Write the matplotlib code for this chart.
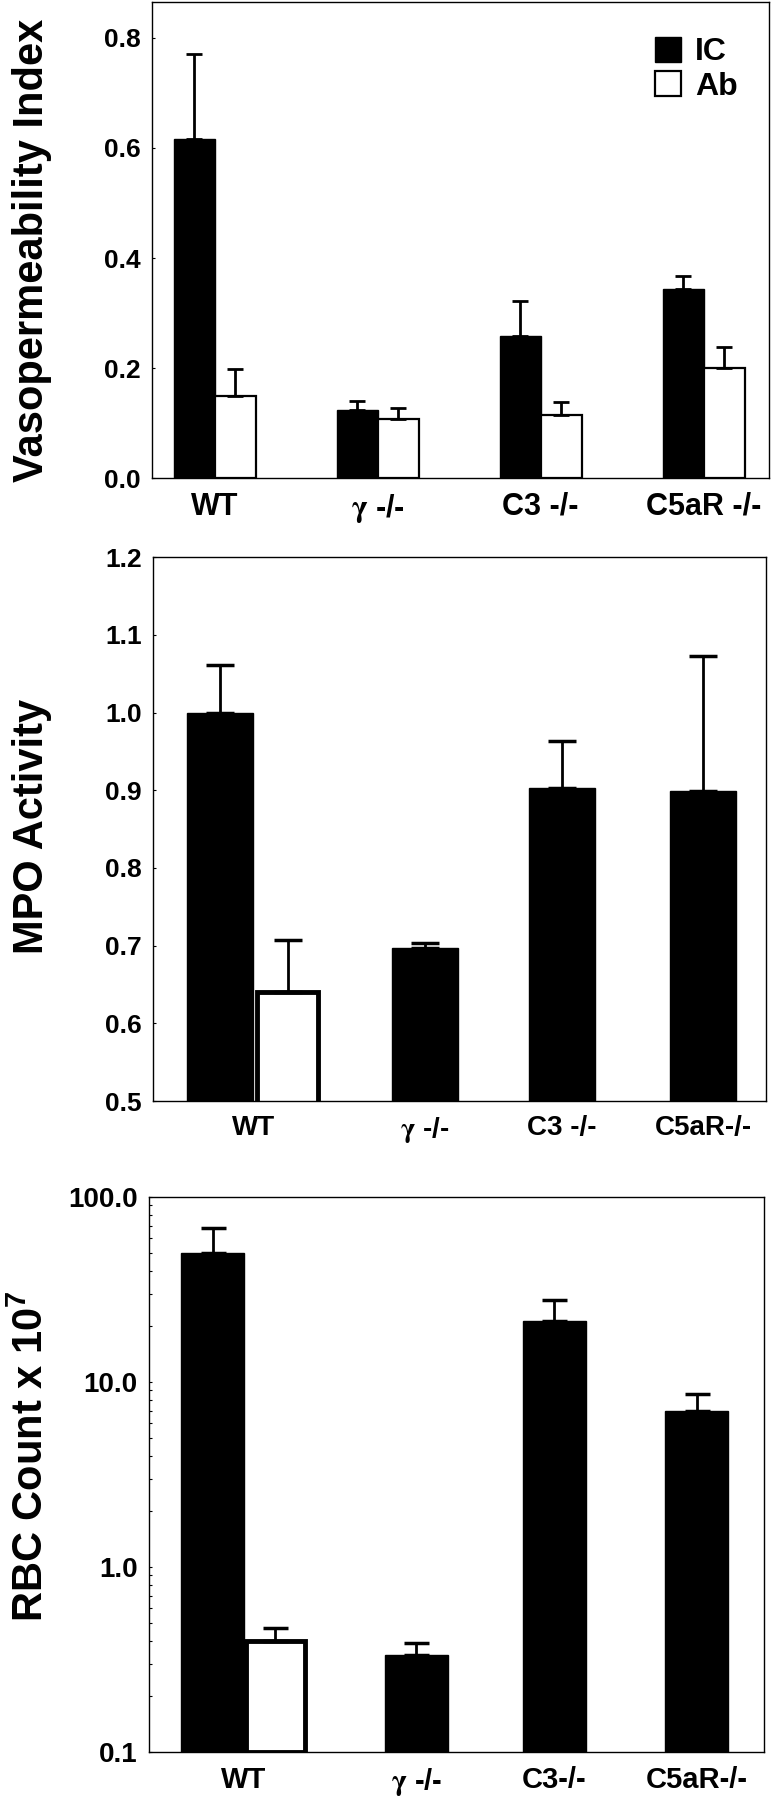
import numpy as np
import matplotlib
matplotlib.use('Agg')
import matplotlib.pyplot as plt
from matplotlib.patches import Patch
from matplotlib.ticker import FixedLocator, FormatStrFormatter, NullFormatter

plt.rcParams['font.family'] = ['Liberation Sans', 'DejaVu Sans']
plt.rcParams['font.weight'] = 'bold'
plt.rcParams['mathtext.fontset'] = 'stix'
plt.rcParams['mathtext.default'] = 'regular'

# Panel 1: vasopermeability index
groups_vp = [r'WT', r'$\mathrm{\gamma}$ -/-', r'C3 -/-', r'C5aR -/-']
vp_ic = [0.617, 0.123, 0.258, 0.344]
vp_ic_err = [0.154, 0.017, 0.063, 0.024]
vp_ab = [0.149, 0.107, 0.115, 0.200]
vp_ab_err = [0.049, 0.021, 0.023, 0.039]

# Panel 2: MPO activity (Ab only measured for WT)
groups_mpo = [r'WT', r'$\mathrm{\gamma}$ -/-', r'C3 -/-', r'C5aR-/-']
mpo_ic = [1.000, 0.697, 0.903, 0.899]
mpo_ic_err = [0.061, 0.006, 0.060, 0.174]
mpo_ab_wt = 0.640
mpo_ab_wt_err = 0.067

# Panel 3: RBC count (log scale)
groups_rbc = [r'WT', r'$\mathrm{\gamma}$ -/-', r'C3-/-', r'C5aR-/-']
rbc_ic = [50.0, 0.333, 21.4, 6.97]
rbc_ic_err = [17.8, 0.053, 6.2, 1.63]
rbc_ab_wt = 0.40
rbc_ab_wt_err = 0.065

fig = plt.figure(figsize=(7.75, 18), dpi=100)


def style_axes(ax):
    for s in ax.spines.values():
        s.set_linewidth(1.0)
    ax.tick_params(which='both', direction='in', length=2, width=0.8, pad=8)
    ax.tick_params(axis='x', length=0, pad=10)


# ---- panel 1 ----
ax1 = fig.add_axes([0.196, 0.7344, 0.796, 0.2644])
x = np.arange(len(groups_vp))
w = 0.252
ax1.bar(x - w / 2, vp_ic, w, color='black', edgecolor='black', linewidth=1)
ax1.bar(x + w / 2, vp_ab, w, color='white', edgecolor='black', linewidth=1.6)
ax1.errorbar(x - w / 2, vp_ic, yerr=[np.zeros(4), vp_ic_err], fmt='none',
             ecolor='black', elinewidth=2, capsize=6, capthick=2)
ax1.errorbar(x + w / 2, vp_ab, yerr=[np.zeros(4), vp_ab_err], fmt='none',
             ecolor='black', elinewidth=2, capsize=6, capthick=2)
ax1.set_xlim(-0.387, 3.40)
ax1.set_ylim(0, 0.865)
ax1.set_yticks([0.0, 0.2, 0.4, 0.6, 0.8])
ax1.yaxis.set_major_formatter(FormatStrFormatter('%.1f'))
ax1.set_xticks(x)
ax1.set_xticklabels(groups_vp, fontsize=22)
ax1.tick_params(axis='y', labelsize=19)
style_axes(ax1)
handles = [Patch(facecolor='black', edgecolor='black', label='IC'),
           Patch(facecolor='white', edgecolor='black', linewidth=1.6, label='Ab')]
ax1.legend(handles=handles, loc='upper left', bbox_to_anchor=(0.79, 0.96),
           frameon=False, fontsize=23, handlelength=0.8, handleheight=0.8,
           handletextpad=0.45, labelspacing=0.12, borderpad=0)
fig.text(0.041, 0.861, 'Vasopermeability Index', rotation=90, ha='center',
         va='center', fontsize=30, fontweight='bold')

# ---- panel 2 ----
centers = np.array([0, 1.25, 2.25, 3.28])
ax2 = fig.add_axes([0.197, 0.3883, 0.791, 0.3022])
w2 = 0.48
ic_pos2 = centers.copy()
ic_pos2[0] = centers[0] - 0.248
ax2.bar(ic_pos2, mpo_ic, w2, color='black', edgecolor='black', linewidth=1)
ax2.bar(centers[0] + 0.248, mpo_ab_wt, w2 - 0.03, color='white',
        edgecolor='black', linewidth=3.5)
ax2.errorbar(ic_pos2, mpo_ic, yerr=[np.zeros(4), mpo_ic_err], fmt='none',
             ecolor='black', elinewidth=2, capsize=10, capthick=2.5)
ax2.errorbar([centers[0] + 0.248], [mpo_ab_wt], yerr=[[0], [mpo_ab_wt_err]],
             fmt='none', ecolor='black', elinewidth=2, capsize=10, capthick=2.5)
ax2.set_xlim(-0.737, 3.737)
ax2.set_ylim(0.5, 1.2)
ax2.set_yticks([0.5, 0.6, 0.7, 0.8, 0.9, 1.0, 1.1, 1.2])
ax2.yaxis.set_major_formatter(FormatStrFormatter('%.1f'))
ax2.set_xticks(centers)
ax2.set_xticklabels(groups_mpo, fontsize=20)
ax2.tick_params(axis='y', labelsize=19)
style_axes(ax2)
fig.text(0.041, 0.541, 'MPO Activity', rotation=90, ha='center',
         va='center', fontsize=30, fontweight='bold')

# ---- panel 3 ----
ax3 = fig.add_axes([0.192, 0.0267, 0.794, 0.3083])
w3 = 0.457
base = 0.1
ic_pos3 = centers.copy()
ic_pos3[0] = centers[0] - 0.225
ax3.bar(ic_pos3, np.array(rbc_ic) - base, w3, bottom=base, color='black',
        edgecolor='black', linewidth=1)
ax3.bar(centers[0] + 0.225, rbc_ab_wt - base, w3 - 0.03, bottom=base,
        color='white', edgecolor='black', linewidth=3.5)
ax3.errorbar(ic_pos3, rbc_ic, yerr=[np.zeros(4), rbc_ic_err], fmt='none',
             ecolor='black', elinewidth=2, capsize=9, capthick=2.5)
ax3.errorbar([centers[0] + 0.225], [rbc_ab_wt], yerr=[[0], [rbc_ab_wt_err]],
             fmt='none', ecolor='black', elinewidth=2, capsize=9, capthick=2.5)
ax3.set_yscale('log')
ax3.set_xlim(-0.69, 3.77)
ax3.set_ylim(0.1, 100)
ax3.yaxis.set_major_locator(FixedLocator([0.1, 1, 10, 100]))
ax3.yaxis.set_major_formatter(FormatStrFormatter('%.1f'))
ax3.yaxis.set_minor_formatter(NullFormatter())
ax3.set_xticks(centers)
ax3.set_xticklabels(groups_rbc, fontsize=21)
ax3.tick_params(axis='y', labelsize=20)
style_axes(ax3)
fig.text(0.041, 0.191, r'RBC Count x 10$^{7}$', rotation=90, ha='center',
         va='center', fontsize=30, fontweight='bold')

fig.savefig('out.png', dpi=100, facecolor='white')
